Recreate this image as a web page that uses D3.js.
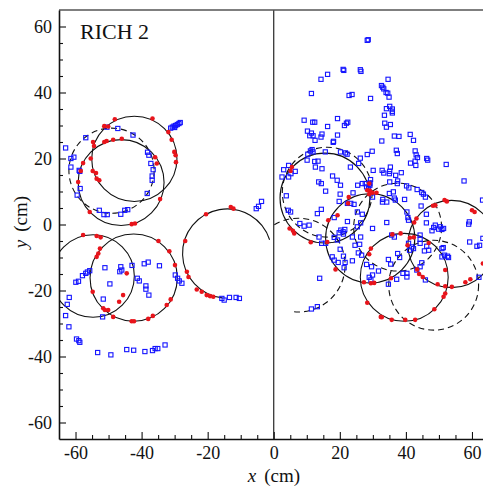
<!DOCTYPE html>
<html>
<head>
<meta charset="utf-8">
<script src="https://cdn.jsdelivr.net/npm/d3@7"></script>
<style>
  body { margin: 0; background: #fff; }
  svg text { font-family: "Liberation Serif", "Times New Roman", serif; fill: #111; }
</style>
</head>
<body>
<div id="chart"></div>
<script>
// ring fits (cm): [cx, cy, r]
const leftRings = [[-42.2, 19.9, 12.9], [-46.2, 12.7, 13.0], [-54.7, -15.6, 12.5], [-42.4, -16.1, 13.2]];
const rightRings = [[15.5, 8.0, 13.6], [29.2, -4.2, 13.5], [39.5, -16.0, 13.3], [53.8, -5.9, 13.2]];
const leftDashed = [[-49.1, 16.3, 12.9]];
const rightDashed = [[16.2, 9.8, 13.6], [37.5, -0.8, 13.3], [48.4, -18.4, 13.6]];
// open arcs: [cx, cy, r, fromDeg, toDeg] (counter-clockwise)
const openRing = [-14.1, -8.8, 13.5, 18, 264];
const openDashed = [7.4, -12.3, 14.2, -95, 135];

// red hits on the rings
const redLeft = [
  [-48.1, 31.9], [-36.7, 32.1], [-51.3, 29.8], [-50.1, 29.7], [-54.7, 25.0], [-54.4, 23.8],
  [-51.3, 25.0], [-50.6, 25.3], [-48.6, 25.7], [-46.0, 26.0], [-55.4, 20.0], [-31.9, 28.0],
  [-30.9, 25.7], [-30.1, 22.0], [-29.7, 21.0], [-29.6, 18.9], [-35.9, 20.4], [-35.4, 18.5],
  [-57.7, 18.6], [-54.8, 16.2], [-53.8, 15.6], [-53.6, 13.9], [-52.8, 13.4], [-59.2, 12.9],
  [-58.4, 16.2], [-34.4, 7.7], [-55.7, 3.8], [-43.0, 0.1], [-42.0, 0.3],
  [-57.7, -3.2], [-53.6, -3.5], [-52.4, -3.9], [-52.6, -7.3], [-53.1, -8.8], [-53.6, -9.8],
  [-44.5, -14.8], [-45.6, -21.4], [-46.8, -23.4], [-54.8, -20.4], [-51.6, -25.4], [-51.1, -25.9],
  [-50.1, -25.9], [-48.6, -28.0], [-43.0, -29.3], [-42.3, -29.3], [-38.0, -28.6], [-36.6, -27.7],
  [-32.4, -24.4], [-31.2, -22.7], [-29.9, -12.3], [-31.6, -8.1], [-34.9, -5.0],
  [-26.8, -5.0], [-26.3, -14.3], [-25.8, -15.9], [-23.3, -19.7], [-21.8, -20.4], [-20.3, -21.4],
  [-19.3, -21.7], [-18.3, -21.9], [-13.0, 5.3], [-12.2, 4.8], [-20.5, 3.1]
];
const redRight = [
  [5.5, 17.4], [5.1, 16.2], [4.8, -1.2], [5.8, -1.9], [6.2, -2.7], [11.2, -5.4], [16.2, -5.3],
  [28.9, 12.4], [28.9, 9.2], [29.9, 9.6], [29.1, 10.2], [28.3, 10.4], [31.1, 9.6],
  [22.5, 6.4], [22.7, 8.3], [19.3, 2.8], [16.5, 1.3], [18.7, -13.6], [28.9, -9.0], [29.4, -7.3],
  [27.3, -17.5], [29.4, -17.8], [30.4, -17.7], [28.3, -23.7], [32.7, -28.1],
  [42.5, 0.6], [43.2, 1.8], [35.9, -3.0], [38.4, -2.7], [41.2, -4.0], [42.4, -3.9], [40.5, -6.3], [46.9, -5.6],
  [48.2, 5.7], [48.9, 5.8], [51.7, 7.4], [52.4, 7.0], [60.0, 4.3], [60.8, 3.8],
  [63.3, -11.8], [59.5, -16.6], [58.0, -17.5], [53.9, -18.9], [51.9, -18.7], [49.6, -18.1],
  [51.9, -13.8], [51.9, -20.9], [51.4, -21.9], [44.0, -15.0], [45.1, -15.9], [43.4, -13.6],
  [35.5, -16.3], [48.6, -25.7], [42.8, -28.9], [39.8, -28.9], [35.7, -28.9], [32.4, -28.0]
];

// other hits (open squares)
const blueLeft = [
  [-63.0, 23.2], [-61.4, 20.0], [-60.5, 20.4], [-56.9, 26.3], [-50.5, 29.5], [-47.2, 29.1],
  [-42.6, 27.1], [-38.2, 21.9], [-37.8, 21.0], [-37.2, 18.5], [-36.5, 16.6], [-36.8, 14.7],
  [-36.8, 13.4], [-38.3, 9.4], [-61.4, 17.4], [-58.9, 16.4], [-58.7, 16.1], [-58.6, 10.9],
  [-59.5, 8.9], [-52.8, 4.3], [-51.4, 3.0], [-50.4, 3.0], [-46.3, 3.1], [-45.1, 4.3], [-44.2, 4.5],
  [-31.2, 29.2], [-30.7, 29.5], [-30.2, 29.8], [-29.7, 30.0], [-29.2, 30.3], [-28.7, 30.6],
  [-28.3, 30.9], [-30.0, 29.4],
  [-61.9, -22.1], [-62.5, -24.2], [-63.0, -27.6], [-62.0, -31.0], [-59.7, -34.7], [-59.0, -35.2],
  [-58.7, -35.7], [-53.3, -38.8], [-49.3, -39.5], [-44.5, -37.9], [-42.4, -38.1], [-39.0, -38.5],
  [-36.7, -38.2], [-35.9, -37.6], [-35.1, -37.6], [-32.9, -36.5],
  [-59.9, -17.5], [-59.1, -17.2], [-57.9, -15.5], [-56.9, -14.8], [-56.4, -14.4], [-55.7, -14.0],
  [-51.1, -13.1], [-49.6, -18.0], [-51.6, -22.6], [-51.8, -28.0], [-46.3, -12.8], [-46.0, -13.8],
  [-46.6, -14.3], [-42.9, -12.4], [-41.3, -16.3], [-40.7, -17.1], [-39.2, -11.9], [-38.0, -11.4],
  [-34.6, -12.5], [-38.7, -18.6], [-38.7, -19.6], [-37.8, -21.4], [-29.8, -15.3], [-29.1, -16.3],
  [-28.6, -17.1], [-27.8, -17.8],
  [-15.7, -22.4], [-15.0, -22.9], [-13.4, -22.1], [-11.4, -22.1], [-10.4, -22.4],
  [-5.3, 4.8], [-4.6, 5.5], [-3.7, 7.0]
];
const blueRight = [
  [28.3, 55.8], [28.6, 56.0], [21.0, 47.0], [21.2, 46.7], [26.2, 46.9], [26.4, 46.4], [16.3, 45.5],
  [14.3, 44.0], [34.6, 44.0], [11.4, 39.7], [22.8, 39.1], [23.7, 39.4], [29.3, 38.2], [32.6, 42.1],
  [33.0, 41.6], [33.3, 41.1], [34.0, 40.0], [34.5, 39.8], [34.9, 38.6], [35.1, 35.8], [34.1, 35.1],
  [35.9, 35.0], [35.9, 34.3], [35.9, 33.8], [33.5, 33.1], [9.2, 31.6], [11.8, 31.0], [12.4, 31.0],
  [19.3, 32.1], [22.4, 31.0], [22.0, 30.7], [21.4, 30.0], [16.3, 29.7], [33.6, 30.7], [35.3, 30.3],
  [34.1, 29.5], [10.2, 28.3], [11.4, 27.7], [10.9, 26.9], [11.9, 26.9], [14.6, 27.4], [14.3, 26.5],
  [19.3, 27.1], [12.5, 25.5], [18.1, 25.2], [18.0, 24.9], [32.7, 25.3], [36.5, 26.8], [37.9, 26.7],
  [41.3, 27.3], [42.3, 25.5], [37.1, 22.5], [37.4, 21.5], [42.8, 22.3], [43.1, 21.1], [43.5, 20.3],
  [46.6, 19.5], [46.3, 20.0], [52.2, 18.2], [57.6, 13.2], [41.4, 18.6], [42.8, 19.2], [43.0, 17.9],
  [11.6, 22.7], [11.1, 22.3], [11.9, 22.0], [10.3, 21.3], [10.1, 19.5], [12.4, 19.1], [13.4, 19.2],
  [12.6, 17.4], [14.6, 16.9], [15.6, 22.0], [20.2, 22.0], [21.7, 21.7], [22.2, 21.3], [23.2, 17.4],
  [25.7, 18.5], [26.2, 20.1], [28.3, 21.2], [29.8, 22.2], [30.1, 16.4], [32.8, 16.4], [33.3, 15.6],
  [35.3, 17.4], [35.1, 16.1], [35.0, 15.4], [36.9, 14.9], [38.6, 15.7], [37.5, 13.2], [37.4, 12.4],
  [35.1, 12.9], [4.5, 17.9], [3.0, 16.6], [2.5, 14.4], [6.5, 16.1], [5.2, 15.4], [4.5, 14.4],
  [13.6, 12.9], [14.4, 12.4], [17.8, 14.7], [19.2, 13.4], [20.2, 11.9], [25.4, 11.9], [26.8, 12.4],
  [29.3, 13.6], [29.1, 11.9], [40.2, 11.7], [40.9, 11.1], [43.4, 10.6],
  [15.7, 10.1], [20.1, 9.2], [19.8, 7.0], [24.0, 9.6], [22.3, 6.4], [23.3, 6.4], [24.3, 6.1],
  [27.7, 12.4], [28.1, 11.4], [28.7, 10.9], [29.1, 12.6], [29.9, 8.3], [32.9, 6.8], [3.8, 8.7],
  [4.4, 4.3], [5.1, 3.8], [13.2, 3.3], [14.4, 4.6], [18.3, 2.1], [22.3, 0.9], [25.3, 3.8], [26.3, 0.5],
  [26.8, 3.1], [25.3, -0.7], [7.9, 0.3], [9.2, -0.5], [10.7, -0.2], [20.3, -1.7], [21.0, -2.2],
  [21.5, -1.5], [23.8, -3.8], [26.3, -3.8], [29.9, -1.2],
  [13.7, -3.8], [14.5, -5.7], [15.7, -5.7], [18.3, -3.9], [19.3, -4.7], [19.8, -2.5], [21.1, -2.9],
  [24.6, -6.3], [26.0, -6.0], [20.1, -7.5], [21.1, -9.6], [17.7, -9.8], [18.3, -10.8], [19.5, -11.5],
  [21.6, -11.5], [23.8, -11.0], [25.6, -8.6], [26.6, -9.3], [21.3, -13.1], [13.9, -16.3], [28.1, -12.1],
  [29.6, -12.8], [31.7, -14.1], [29.9, -15.3], [28.9, -16.0], [29.4, -16.8], [13.2, -24.9], [11.4, -25.6],
  [44.8, 9.7], [45.3, 9.2], [45.9, 8.3], [44.6, 5.6], [35.0, 9.4], [36.2, 9.9], [36.5, 8.0], [36.8, 7.4],
  [39.6, 7.6], [33.0, 7.6], [34.2, 6.8], [40.3, 3.8], [40.6, 2.1], [40.8, 1.3], [46.2, 3.1], [46.2, 0.5],
  [34.2, 0.6], [48.9, -0.2], [50.4, -0.7], [49.9, -1.4], [48.4, -0.9], [47.9, -1.9], [50.9, -1.5],
  [51.4, -1.2], [59.2, 0.8], [59.0, 0.1], [63.2, 7.4], [44.3, -3.2],
  [35.7, -3.2], [36.5, -3.8], [40.8, -5.7], [41.8, -6.8], [42.3, -7.3], [41.1, -7.8], [44.3, -5.7],
  [44.3, -4.5], [46.3, -6.6], [46.9, -7.8], [45.6, -8.0], [50.9, -7.3], [51.3, -7.0], [51.7, -9.3],
  [50.9, -9.8], [52.6, -9.6], [52.9, -10.0], [37.5, -8.8], [38.1, -10.0], [34.7, -10.6], [35.4, -12.0],
  [44.8, -11.6], [44.3, -12.8], [43.3, -13.8], [40.3, -14.8], [40.3, -15.9], [39.1, -14.8], [37.2, -16.6],
  [34.7, -18.1], [45.9, -16.8], [59.3, -5.3], [61.5, -6.6], [62.3, -6.3], [62.1, -16.0], [63.3, -4.2]
];

const majorTicks = [-60, -40, -20, 0, 20, 40, 60];
const minorTicks = d3.range(-60, 61, 5).filter(v => v % 20 !== 0);

const W = 483, H = 488;
const svg = d3.select("#chart").append("svg").attr("width", W).attr("height", H);

const x = d3.scaleLinear().domain([-65, 65]).range([59, 488.5]);
const y = d3.scaleLinear().domain([-65, 65]).range([439, 10]);
const pxPerCm = x(1) - x(0);

// clip regions: each detector half separately
const defs = svg.append("defs");
defs.append("clipPath").attr("id", "clipL").append("rect")
  .attr("x", x(-65)).attr("y", y(65)).attr("width", x(0) - x(-65)).attr("height", y(-65) - y(65));
defs.append("clipPath").attr("id", "clipR").append("rect")
  .attr("x", x(0)).attr("y", y(65)).attr("width", x(65) - x(0)).attr("height", y(-65) - y(65));

function drawRings(data, clip, dashed) {
  svg.append("g").attr("clip-path", `url(#${clip})`)
    .selectAll("circle").data(data).join("circle")
    .attr("cx", d => x(d[0])).attr("cy", d => y(d[1])).attr("r", d => d[2] * pxPerCm)
    .attr("fill", "none").attr("stroke", "#111").attr("stroke-width", 1.1)
    .attr("stroke-dasharray", dashed ? "6,4" : null);
}
drawRings(leftDashed, "clipL", true);
drawRings(rightDashed, "clipR", true);
drawRings(leftRings, "clipL", false);
drawRings(rightRings, "clipR", false);

function drawArc(arc, clip, dashed) {
  const [cx, cy, r, a0, a1] = arc;
  const p = d3.path();
  const rad = Math.PI / 180;
  p.arc(x(cx), y(cy), r * pxPerCm, -a0 * rad, -a1 * rad, true);
  svg.append("path").attr("d", p.toString()).attr("clip-path", `url(#${clip})`)
    .attr("fill", "none").attr("stroke", "#111").attr("stroke-width", 1.1)
    .attr("stroke-dasharray", dashed ? "6,4" : null);
}
drawArc(openRing, "clipL", false);
drawArc(openDashed, "clipR", true);

// blue open squares
const sq = 4.2;
svg.append("g").selectAll("rect").data(blueLeft.concat(blueRight)).join("rect")
  .attr("x", d => x(d[0]) - sq / 2).attr("y", d => y(d[1]) - sq / 2)
  .attr("width", sq).attr("height", sq)
  .attr("fill", "none").attr("stroke", "#1515ff").attr("stroke-width", 1.1);

// red ring hits
svg.append("g").selectAll("circle").data(redLeft.concat(redRight)).join("circle")
  .attr("cx", d => x(d[0])).attr("cy", d => y(d[1])).attr("r", 2.3)
  .attr("fill", "#e8141b");

// vertical separator at x = 0
svg.append("line")
  .attr("x1", x(0)).attr("x2", x(0)).attr("y1", y(-65)).attr("y2", y(65))
  .attr("stroke", "#111").attr("stroke-width", 1.1);

// frame top
svg.append("line")
  .attr("x1", x(-65)).attr("x2", W).attr("y1", y(65)).attr("y2", y(65))
  .attr("stroke", "#555").attr("stroke-width", 1.6);

// axes
const xMinor = svg.append("g").attr("transform", `translate(0,${y(-65)})`)
  .call(d3.axisBottom(x).tickValues(minorTicks).tickSize(-4).tickFormat(""));
const yMinor = svg.append("g").attr("transform", `translate(${x(-65)},0)`)
  .call(d3.axisLeft(y).tickValues(minorTicks).tickSize(-4).tickFormat(""));
[xMinor, yMinor].forEach(g => g.select(".domain").remove());

const fmt = d => d < 0 ? "-" + Math.abs(d) : String(d);
const xAxis = svg.append("g").attr("transform", `translate(0,${y(-65)})`)
  .call(d3.axisBottom(x).tickValues(majorTicks).tickSize(-7).tickSizeOuter(0).tickPadding(7).tickFormat(fmt));
const yAxis = svg.append("g").attr("transform", `translate(${x(-65)},0)`)
  .call(d3.axisLeft(y).tickValues(majorTicks).tickSize(-7).tickSizeOuter(0).tickPadding(7).tickFormat(fmt));

svg.selectAll(".tick line").attr("stroke", "#111").attr("stroke-width", 1.1);
[xAxis, yAxis].forEach(g => {
  g.attr("font-family", '"Liberation Serif", serif').attr("font-size", 18);
  g.select(".domain").attr("stroke", "#111").attr("stroke-width", 1.6);
  g.selectAll("text").style("font-family", '"Liberation Serif", serif').style("font-size", "18px").attr("fill", "#222");
});

// axis titles
const xt = svg.append("text").attr("x", 274).attr("y", 482).attr("text-anchor", "middle")
  .style("font-size", "19px");
xt.append("tspan").attr("font-style", "italic").text("x");
xt.append("tspan").attr("dx", 8).text("(cm)");

const yt = svg.append("text").attr("transform", "translate(27,222) rotate(-90)")
  .attr("text-anchor", "middle").style("font-size", "19px");
yt.append("tspan").attr("font-style", "italic").text("y");
yt.append("tspan").attr("dx", 8).text("(cm)");

svg.append("text").attr("x", 80).attr("y", 39).style("font-size", "22px").text("RICH 2");
</script>
</body>
</html>
